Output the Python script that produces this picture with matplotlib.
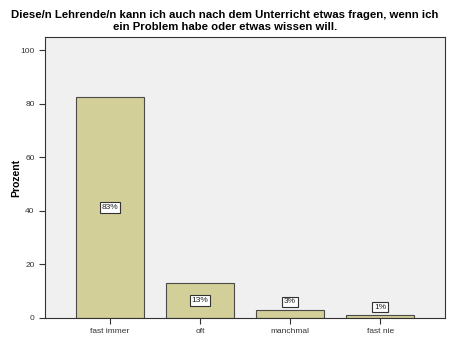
import matplotlib
matplotlib.use("Agg")
import matplotlib.pyplot as plt

categories = ["fast immer", "oft", "manchmal", "fast nie"]
values = [82.6, 13.0, 3.0, 1.1]
labels = ["83%", "13%", "3%", "1%"]
title = "Diese/n Lehrende/n kann ich auch nach dem Unterricht etwas fragen, wenn ich\nein Problem habe oder etwas wissen will."

plt.rcParams['font.family'] = ['Liberation Sans', 'DejaVu Sans']

fig = plt.figure(figsize=(4.5, 3.6), dpi=100)
ax = fig.add_axes([45/450, 1-318/360, 400/450, 281/360])
ax.set_facecolor("#F0F0F0")
x = list(range(len(categories)))
ax.bar(x, values, width=0.755, color="#D3CF98", edgecolor="#4a4a4a", linewidth=0.8, zorder=2)
for xi, v, lab in zip(x, values, labels):
    y = v / 2 if v > 10 else v + 3
    ax.text(xi, y, lab, ha="center", va="center", fontsize=6, color="#222222",
            bbox=dict(boxstyle="square,pad=0.2", facecolor="white", edgecolor="#333333", linewidth=0.8), zorder=3)
ax.set_xlim(-0.72, 3.72)
ax.set_ylim(0, 105)
ax.set_yticks([0, 20, 40, 60, 80, 100])
ax.set_xticks(x)
ax.set_xticklabels(categories)
ax.tick_params(axis="both", labelsize=6, length=4, color="#333333", labelcolor="#333333", width=0.8)
for s in ax.spines.values():
    s.set_color("#333333")
    s.set_linewidth(0.8)
ax.set_ylabel("Prozent", fontsize=7.5, fontweight="bold", labelpad=0)
ax.yaxis.set_label_coords(-24/400, 0.5)
fig.text(0.5, 1-21/360, title, ha="center", va="center", fontsize=8.2, fontweight="bold", linespacing=1.2)
fig.savefig("out.png", dpi=100)
